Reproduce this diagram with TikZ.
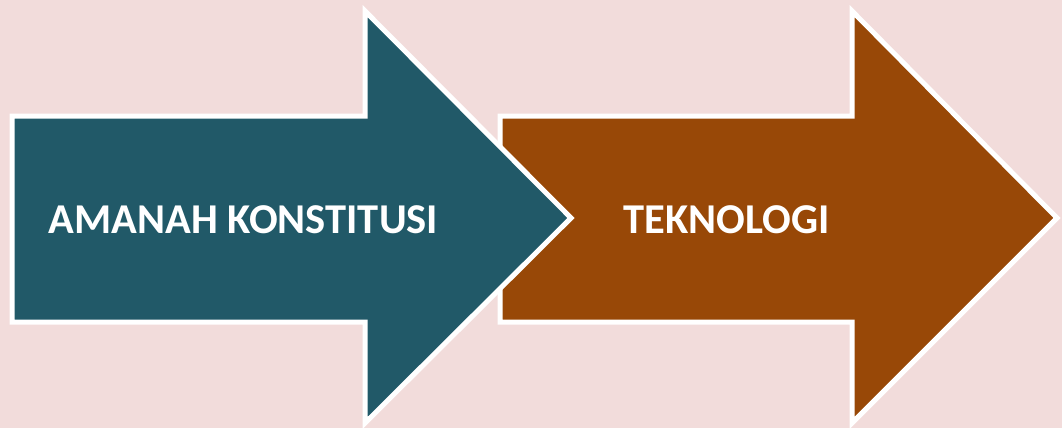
\documentclass[tikz,border=0pt]{standalone}
\usepackage{fontspec}
\setmainfont{Carlito}
\definecolor{bgpink}{HTML}{F2DCDB}
\definecolor{tealA}{HTML}{215968}
\definecolor{brownA}{HTML}{984807}
\tikzset{
  arrowshape/.style={draw=white, line width=5pt, line join=miter},
  label/.style={text=white, font=\fontsize{42.5}{48}\selectfont\bfseries, anchor=base, inner sep=0pt}
}
\begin{document}
\begin{tikzpicture}[x=1pt,y=-1pt]
\fill[bgpink] (0,0) rectangle (1062,428);
\useasboundingbox (0,0) rectangle (1062,428);
% second arrow (drawn first, underneath)
\draw[arrowshape, fill=brownA] (500,116) -- (852,116) -- (852,11) -- (1057,218) -- (852,423) -- (852,322) -- (500,322) -- cycle;
% first arrow
\draw[arrowshape, fill=tealA] (12,116) -- (365,116) -- (365,11) -- (571,218) -- (365,423) -- (365,322) -- (12,322) -- cycle;
\node[label] (t1) at (243.5,233.5) {AMANAH KONSTITUSI};
\node[label] (t2) at (726.5,233.5) {TEKNOLOGI};
\end{tikzpicture}
\end{document}
